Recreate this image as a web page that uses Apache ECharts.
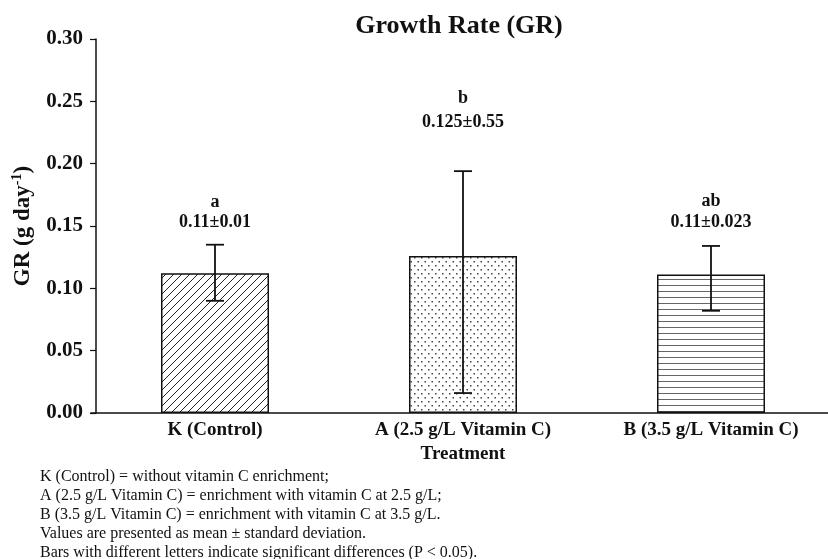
<!DOCTYPE html>
<html><head><meta charset="utf-8">
<script src="https://cdn.jsdelivr.net/npm/echarts@6/dist/echarts.min.js"></script>
<style>html,body{margin:0;padding:0;background:#fff}#c{width:828px;height:559px}</style>
</head><body><div id="c"></div><script>
// ---- data ----
const categories = ['K (Control)', 'A (2.5 g/L Vitamin C)', 'B (3.5 g/L Vitamin C)'];
const means = [0.112, 0.126, 0.111];
const errLow = [0.090, 0.016, 0.082];
const errHigh = [0.135, 0.194, 0.134];
const letters = ['a', 'b', 'ab'];
const valueTexts = ['0.11±0.01', '0.125±0.55', '0.11±0.023'];
const letterY = [0.169, 0.252, 0.170];
const valueTextY = [0.1526, 0.233, 0.153];
const footnotes = [
  'K (Control) = without vitamin C enrichment;',
  'A (2.5 g/L Vitamin C) = enrichment with vitamin C at 2.5 g/L;',
  'B (3.5 g/L Vitamin C) = enrichment with vitamin C at 3.5 g/L.',
  'Values are presented as mean \u00b1 standard deviation.',
  'Bars with different letters indicate significant differences (P < 0.05).'
];

const FONT = '"Liberation Serif","Times New Roman",serif';

function makePattern(kind) {
  const c = document.createElement('canvas');
  const ctx = c.getContext('2d');
  if (kind === 'diag') {
    c.width = 8; c.height = 8;
    ctx.fillStyle = '#fff'; ctx.fillRect(0, 0, 8, 8);
    ctx.strokeStyle = '#222'; ctx.lineWidth = 1;
    ctx.beginPath();
    ctx.moveTo(-1, 9); ctx.lineTo(9, -1);
    ctx.moveTo(-1, 1); ctx.lineTo(1, -1);
    ctx.moveTo(7, 9); ctx.lineTo(9, 7);
    ctx.stroke();
  } else if (kind === 'dots') {
    c.width = 7; c.height = 8;
    ctx.fillStyle = '#fff'; ctx.fillRect(0, 0, 7, 8);
    ctx.fillStyle = '#444';
    ctx.fillRect(1, 1, 1.5, 1.5);
    ctx.fillRect(4.5, 5, 1.5, 1.5);
  } else {
    c.width = 6; c.height = 6;
    ctx.fillStyle = '#fff'; ctx.fillRect(0, 0, 6, 6);
    ctx.strokeStyle = '#666'; ctx.lineWidth = 1;
    ctx.beginPath(); ctx.moveTo(0, 3.5); ctx.lineTo(6, 3.5); ctx.stroke();
  }
  return c;
}
const patterns = [makePattern('diag'), makePattern('dots'), makePattern('horiz')];

const chart = echarts.init(document.getElementById('c'));
chart.setOption({
  backgroundColor: '#fff',
  animation: false,
  title: {
    text: 'Growth Rate (GR)',
    left: 454, top: 8, textAlign: 'center',
    textStyle: { fontFamily: FONT, fontWeight: 'bold', fontSize: 26, color: '#111' }
  },
  grid: { left: 91, width: 744, top: 39, bottom: 146, outerBoundsMode: 'none', containLabel: false },
  xAxis: {
    type: 'category',
    data: categories,
    name: 'Treatment',
    nameLocation: 'middle',
    nameGap: 32,
    nameTextStyle: { fontFamily: FONT, fontWeight: 'bold', fontSize: 19, color: '#111' },
    axisLine: { lineStyle: { color: '#111', width: 1.5 } },
    axisTick: { alignWithLabel: true, length: 5, lineStyle: { color: '#111', width: 1.2 } },
    axisLabel: { fontFamily: FONT, fontWeight: 'bold', fontSize: 19, color: '#111', margin: 8 }
  },
  yAxis: {
    type: 'value',
    min: 0, max: 0.30, interval: 0.05,
    offset: -5,
    name: '{a|GR (g day}{s|-1}{a|)}',
    nameLocation: 'middle',
    nameGap: 60,
    nameRotate: 90,
    nameTextStyle: {
      rich: {
        a: { fontFamily: FONT, fontWeight: 'bold', fontSize: 23, color: '#111' },
        s: { fontFamily: FONT, fontWeight: 'bold', fontSize: 14, color: '#111', verticalAlign: 'top', padding: [0, 0, 12, 0] }
      }
    },
    splitLine: { show: false },
    axisLine: { show: true, lineStyle: { color: '#111', width: 1.5 } },
    axisTick: { show: true, length: 6, lineStyle: { color: '#111', width: 1.2 } },
    axisLabel: { fontFamily: FONT, fontWeight: 'bold', fontSize: 21, color: '#111', margin: 13,
      formatter: v => v.toFixed(2) }
  },
  series: [
    {
      type: 'bar',
      barWidth: 108,
      data: means.map((v, i) => ({
        value: v,
        itemStyle: { color: { image: patterns[i], repeat: 'repeat' }, borderColor: '#111', borderWidth: 1.5 }
      })),
      z: 2
    },
    {
      type: 'custom',
      z: 5,
      data: categories.map((c, i) => [i, errLow[i], errHigh[i]]),
      renderItem: (params, api) => {
        const x = api.value(0);
        const lo = api.coord([x, api.value(1)]);
        const hi = api.coord([x, api.value(2)]);
        const w = 9;
        const st = { stroke: '#111', lineWidth: 1.8 };
        return {
          type: 'group',
          children: [
            { type: 'line', shape: { x1: lo[0], y1: lo[1], x2: hi[0], y2: hi[1] }, style: st },
            { type: 'line', shape: { x1: lo[0] - w, y1: lo[1], x2: lo[0] + w, y2: lo[1] }, style: st },
            { type: 'line', shape: { x1: hi[0] - w, y1: hi[1], x2: hi[0] + w, y2: hi[1] }, style: st }
          ]
        };
      }
    },
    {
      type: 'custom',
      z: 6,
      data: categories.map((c, i) => [i, letterY[i], valueTextY[i]]),
      renderItem: (params, api) => {
        const i = params.dataIndex;
        const x = api.value(0);
        const p1 = api.coord([x, api.value(1)]);
        const p2 = api.coord([x, api.value(2)]);
        const ts = { fontFamily: FONT, fontWeight: 'bold', fontSize: 18, fill: '#111', align: 'center', verticalAlign: 'middle' };
        return {
          type: 'group',
          children: [
            { type: 'text', x: p1[0], y: p1[1], style: Object.assign({ text: letters[i] }, ts) },
            { type: 'text', x: p2[0], y: p2[1], style: Object.assign({ text: valueTexts[i] }, ts) }
          ]
        };
      }
    }
  ],
  graphic: footnotes.map((t, i) => ({
    type: 'text',
    left: 40,
    top: 469 + i * 19,
    style: { text: t, fontFamily: FONT, fontSize: 16, fill: '#111' }
  }))
});
</script></body></html>
